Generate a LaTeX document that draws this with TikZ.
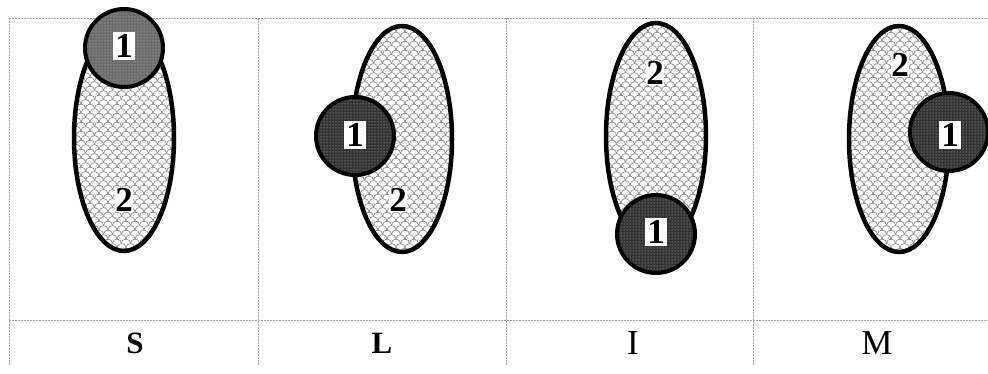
\documentclass[tikz,border=0pt]{standalone}
\usepackage{fontspec}
\setmainfont{Liberation Serif}
\usetikzlibrary{shapes.geometric,patterns}
\pgfdeclarepatternformonly{fishscales}{\pgfpoint{-1pt}{-1pt}}{\pgfpoint{10pt}{10pt}}{\pgfpoint{9pt}{9pt}}{
  \pgfsetlinewidth{0.7pt}
  \pgfpathmoveto{\pgfpoint{0pt}{0pt}}
  \pgfpatharc{180}{0}{4.5pt}
  \pgfpathmoveto{\pgfpoint{-4.5pt}{4.5pt}}
  \pgfpatharc{180}{0}{4.5pt}
  \pgfpathmoveto{\pgfpoint{4.5pt}{4.5pt}}
  \pgfpatharc{180}{0}{4.5pt}
  \pgfusepath{stroke}
}
\tikzset{
  grid line/.style={draw=gray!70, line width=0.7pt, dash pattern=on 2pt off 1pt},
  bigell/.style={ellipse, fill=white,
    postaction={pattern=fishscales, pattern color=gray!85},
    postaction={draw=black, line width=4.5pt},
    minimum width=100pt, minimum height=226pt, inner sep=0pt},
  smallc/.style={circle, fill=#1,
    postaction={pattern=dots, pattern color=white!80!black},
    postaction={draw=black, line width=4pt},
    minimum size=78pt, inner sep=0pt},
  smallc/.default={black!80},
  lab1/.style={fill=white, inner sep=2pt, font=\fontsize{35}{35}\selectfont\bfseries},
  lab2/.style={fill=white, inner sep=0.3pt, font=\fontsize{35}{35}\selectfont\bfseries},
  capb/.style={font=\fontsize{31}{31}\selectfont\bfseries},
  capr/.style={font=\fontsize{35}{35}\selectfont},
}
\begin{document}
\begin{tikzpicture}[x=1pt,y=-1pt]
\useasboundingbox (0,0) rectangle (988,374);
% grid
\coordinate (gtl) at (9,18);
\coordinate (gtr) at (988,18);
\coordinate (gml) at (9,320);
\coordinate (gmr) at (988,320);
\coordinate (v0a) at (9,18);    \coordinate (v0b) at (9,365);
\coordinate (v1a) at (258,18);  \coordinate (v1b) at (258,365);
\coordinate (v2a) at (506,18);  \coordinate (v2b) at (506,365);
\coordinate (v3a) at (753,18);  \coordinate (v3b) at (753,365);
\draw[grid line] (gtl) -- (gtr);
\draw[grid line] (gml) -- (gmr);
\draw[grid line] (v0a) -- (v0b);
\draw[grid line] (v1a) -- (v1b);
\draw[grid line] (v2a) -- (v2b);
\draw[grid line] (v3a) -- (v3b);

% S
\node[bigell] (eS) at (124,138) {};
\node[smallc=black!58] (cS) at (124,48) {};
\node[lab1] (tS1) at (124,46) {1};
\node[lab2] (tS2) at (124,200) {2};
% L
\node[bigell] (eL) at (402,139) {};
\node[smallc] (cL) at (355,136) {};
\node[lab1] (tL1) at (355,135) {1};
\node[lab2] (tL2) at (398,200) {2};
% I
\node[bigell] (eI) at (656,136) {};
\node[smallc] (cI) at (656,234) {};
\node[lab1] (tI1) at (656,232) {1};
\node[lab2] (tI2) at (655,73) {2};
% M
\node[bigell] (eM) at (899,139) {};
\node[smallc] (cM) at (949,132) {};
\node[lab1] (tM1) at (950,135) {1};
\node[lab2] (tM2) at (900,65) {2};

% captions
\node[capb] (capS) at (135,343) {S};
\node[capb] (capL) at (382,343) {L};
\node[capr] (capI) at (633,343) {I};
\node[capr] (capM) at (877,343) {M};
\end{tikzpicture}
\end{document}
